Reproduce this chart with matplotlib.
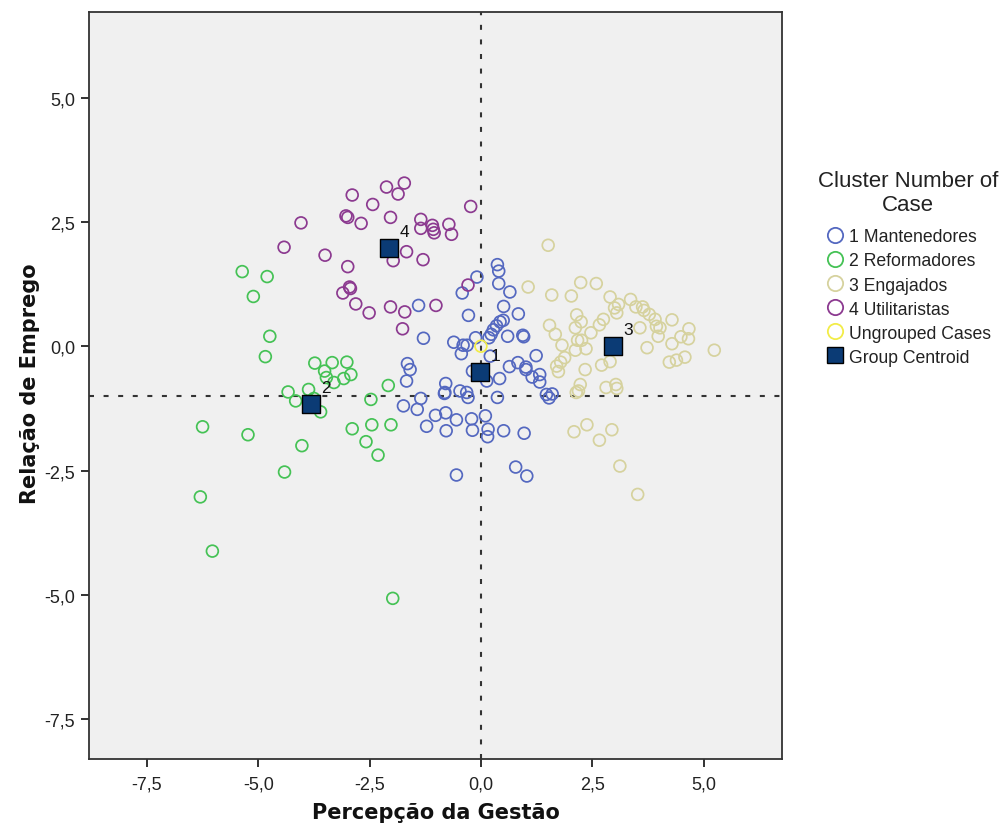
import matplotlib
matplotlib.use("Agg")
import matplotlib.pyplot as plt
from matplotlib.lines import Line2D
import numpy as np

# ---------------- data ----------------
c1_x = [0.37, 0.40, 0.40, -0.09, -0.42, 0.65, -1.40, -0.28, 0.51, 0.84, 0.50, 0.35, 0.23, 0.28, 0.60,
        0.94, 0.96, -1.29, -0.61, -0.40, -0.31, -0.44, -0.12, 0.18, 0.21, 1.24, 0.64, 0.83, 1.01, 1.15,
        1.32, 1.32, 0.42, -0.19, 0.13, -0.79, -1.65, -1.59, -1.67, -0.47, -0.32, -0.29, -0.81, -1.35,
        -1.74, -1.43, 0.37, 1.47, 1.53, 1.60, -1.02, -0.79, -0.55, -0.21, 0.10, -1.22, -0.78, -0.19,
        0.15, 0.16, 0.51, 0.97, -0.55, 0.78, 1.03, -0.82, 0.43, 1.01]
c1_y = [1.64, 1.51, 1.26, 1.39, 1.07, 1.09, 0.82, 0.62, 0.80, 0.65, 0.52, 0.41, 0.24, 0.33, 0.20,
        0.22, 0.19, 0.16, 0.08, 0.02, 0.02, -0.15, 0.17, 0.17, -0.20, -0.19, -0.41, -0.33, -0.42, -0.62,
        -0.57, -0.72, -0.65, -0.50, -0.70, -0.75, -0.35, -0.47, -0.70, -0.90, -0.93, -1.03, -0.93, -1.05,
        -1.20, -1.27, -1.03, -0.97, -1.04, -0.96, -1.39, -1.34, -1.48, -1.46, -1.40, -1.61, -1.70, -1.69,
        -1.82, -1.67, -1.70, -1.75, -2.59, -2.43, -2.61, -0.95, 0.49, -0.47]

c2_x = [-5.36, -4.80, -5.11, -4.74, -4.84, -3.73, -3.34, -3.01, -3.51, -2.92, -3.08, -3.30, -3.47,
        -2.08, -4.33, -3.87, -4.16, -3.60, -2.47, -6.25, -5.23, -4.02, -2.89, -2.45, -2.02, -2.58,
        -2.31, -4.41, -6.30, -6.03, -1.98, -3.75]
c2_y = [1.50, 1.40, 1.00, 0.20, -0.21, -0.34, -0.33, -0.32, -0.50, -0.57, -0.65, -0.73, -0.63,
        -0.79, -0.92, -0.87, -1.10, -1.32, -1.07, -1.62, -1.78, -2.00, -1.66, -1.58, -1.58, -1.92,
        -2.19, -2.53, -3.03, -4.12, -5.07, -1.05]

c3_x = [1.51, 1.06, 1.59, 2.24, 2.59, 2.03, 2.90, 3.00, 3.09, 3.05, 3.36, 3.48, 3.63, 3.66, 3.78,
        3.91, 3.94, 4.02, 3.98, 4.29, 4.67, 4.66, 4.49, 4.29, 4.23, 4.39, 4.58, 5.24, 3.57, 3.73,
        1.54, 1.67, 1.82, 1.88, 1.79, 1.74, 1.70, 2.15, 2.25, 2.12, 2.17, 2.26, 2.36, 2.12, 2.47,
        2.66, 2.75, 2.34, 2.71, 2.90, 2.23, 2.19, 2.14, 2.81, 3.03, 3.05, 2.09, 2.38, 2.94, 2.66,
        3.12, 3.52]
c3_y = [2.03, 1.19, 1.03, 1.28, 1.26, 1.01, 0.99, 0.77, 0.84, 0.67, 0.94, 0.79, 0.79, 0.72, 0.64,
        0.54, 0.40, 0.37, 0.20, 0.53, 0.35, 0.15, 0.19, 0.05, -0.32, -0.28, -0.22, -0.08, 0.37, -0.03,
        0.42, 0.24, 0.02, -0.23, -0.32, -0.51, -0.40, 0.63, 0.49, 0.37, 0.12, 0.12, -0.05, -0.08, 0.27,
        0.43, 0.54, -0.47, -0.38, -0.31, -0.77, -0.90, -0.93, -0.83, -0.77, -0.85, -1.72, -1.58, -1.68, -1.89,
        -2.41, -2.98]

c4_x = [-1.72, -2.12, -1.86, -2.89, -2.43, -0.23, -3.03, -2.99, -2.03, -2.69, -4.04, -1.35, -1.35,
        -1.09, -1.05, -0.72, -0.66, -4.42, -3.50, -1.67, -1.97, -1.30, -2.99, -2.95, -2.93, -3.10,
        -2.81, -2.51, -2.03, -1.71, -1.01, -1.76, -0.29, -1.07]
c4_y = [3.28, 3.20, 3.06, 3.04, 2.85, 2.81, 2.62, 2.59, 2.59, 2.47, 2.48, 2.55, 2.37,
        2.43, 2.28, 2.45, 2.25, 1.99, 1.83, 1.90, 1.72, 1.74, 1.60, 1.19, 1.16, 1.07,
        0.85, 0.67, 0.79, 0.69, 0.82, 0.35, 1.23, 2.35]

ungrouped_x = [0.0]
ungrouped_y = [0.0]

centroid_x = [-0.02, -3.82, 2.96, -2.07]
centroid_y = [-0.52, -1.16, 0.00, 1.97]
centroid_labels = ["1", "2", "3", "4"]

ref_x = 0.0
ref_y = -1.0

x_ticks = [-7.5, -5.0, -2.5, 0.0, 2.5, 5.0]
y_ticks = [-7.5, -5.0, -2.5, 0.0, 2.5, 5.0]

legend_labels = ["1 Mantenedores", "2 Reformadores", "3 Engajados", "4 Utilitaristas",
                 "Ungrouped Cases", "Group Centroid"]
legend_title = "Cluster Number of\nCase"
x_label = "Percepção da Gestão"
y_label = "Relação de Emprego"

# ---------------- style ----------------
col = ["#5468c0", "#45c255", "#d6d29e", "#8c3a90", "#f2ec48"]
centroid_col = "#0b3b75"

plt.rcParams['font.family'] = ['Liberation Sans', 'DejaVu Sans']

fig = plt.figure(figsize=(9.99, 8.28), dpi=100)
W, H = 999, 828
left, right, top, bottom = 89, 782, 12.5, 759.5
ax = fig.add_axes([left / W, 1 - bottom / H, (right - left) / W, (bottom - top) / H])
ax.set_facecolor("#f0f0f0")

ax.axvline(ref_x, color="#333333", lw=1.5, ls=(0, (2.4, 4.6)), zorder=1)
ax.axhline(ref_y, color="#333333", lw=1.5, ls=(0, (2.4, 4.6)), zorder=1)

ms = 72
lw = 1.25
for xs, ys, c in [(c1_x, c1_y, col[0]), (c2_x, c2_y, col[1]), (c3_x, c3_y, col[2]),
                  (c4_x, c4_y, col[3]), (ungrouped_x, ungrouped_y, col[4])]:
    ax.scatter(xs, ys, s=ms, facecolors="none", edgecolors=c, linewidths=lw, zorder=2)

ax.scatter(centroid_x, centroid_y, s=185, marker="s", facecolors=centroid_col,
           edgecolors="black", linewidths=1.0, zorder=4)
for cx, cy, lab in zip(centroid_x, centroid_y, centroid_labels):
    ax.annotate(lab, (cx, cy), xytext=(11, 12), textcoords="offset points",
                ha="center", va="center", fontsize=12.5, color="#111111", zorder=5)

ax.set_xlim(-8.80, 6.76)
ax.set_ylim(-8.29, 6.73)
ax.set_xticks(x_ticks)
ax.set_yticks(y_ticks)
fmt = lambda v: f"{v:.1f}".replace(".", ",")
ax.set_xticklabels([fmt(v) for v in x_ticks])
ax.set_yticklabels([fmt(v) for v in y_ticks])
ax.tick_params(axis="both", direction="out", length=6, width=1.3, colors="#222222",
               labelsize=13, labelcolor="#222222")
ax.tick_params(axis="x", pad=6)
ax.tick_params(axis="y", pad=4)
for sp in ax.spines.values():
    sp.set_color("#333333")
    sp.set_linewidth(1.3)

ax.set_xlabel(x_label, family="DejaVu Sans", fontweight="bold", fontsize=15, color="#111111")
ax.set_ylabel(y_label, family="DejaVu Sans", fontweight="bold", fontsize=15, color="#111111")
ax.xaxis.label.set_va("center")
ax.yaxis.label.set_va("center")
ax.xaxis.set_label_coords(0.5007, (bottom - 813) / (bottom - top))
ax.yaxis.set_label_coords((30 - left) / (right - left), 0.503)

handles = [Line2D([], [], ls="", marker="o", ms=11, mfc="none", mec=c, mew=1.3) for c in col]
handles.append(Line2D([], [], ls="", marker="s", ms=11.5, mfc=centroid_col, mec="black", mew=1.0))
leg = ax.legend(handles, legend_labels, title=legend_title, loc="upper left",
                bbox_to_anchor=(818 / W, 1 - 171 / H), bbox_transform=fig.transFigure,
                frameon=False, fontsize=12.7, title_fontsize=16, borderpad=0, borderaxespad=0,
                handlelength=1.0, handletextpad=0.3, labelspacing=0.4, alignment="center")
leg._legend_box.sep = 9.5
leg.get_title().set_multialignment("center")
for t in leg.get_texts():
    t.set_color("#222222")
leg.get_title().set_color("#222222")

fig.savefig("out.png", dpi=100, facecolor="white")
